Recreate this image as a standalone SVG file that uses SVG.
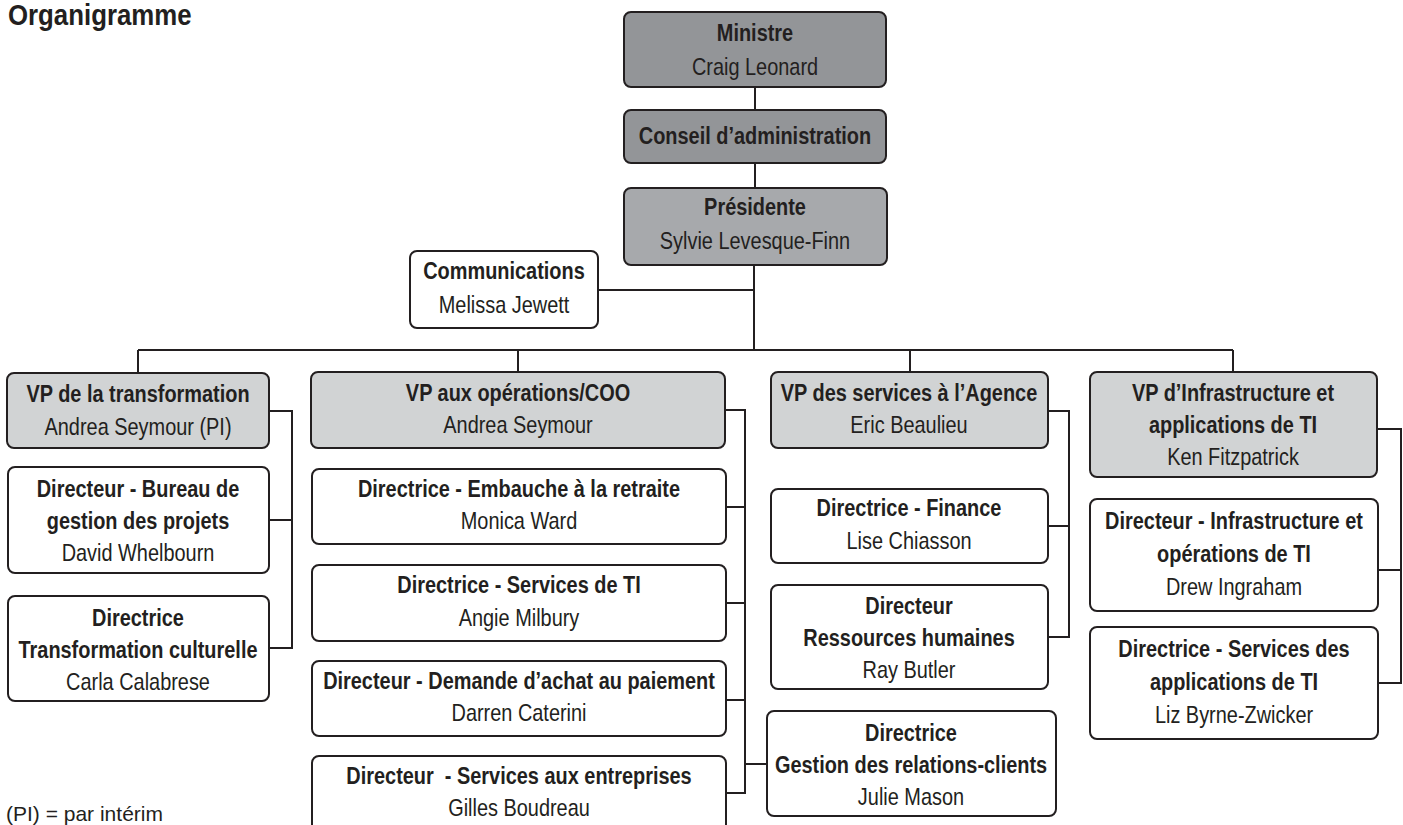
<svg xmlns="http://www.w3.org/2000/svg" width="1403" height="825" viewBox="0 0 1403 825">
<style>
  rect { stroke: #231f20; stroke-width: 2; }
  .w { fill: #ffffff; }
  .dk { fill: #939598; }
  .md { fill: #a7a9ac; }
  .lt { fill: #d1d3d4; }
  text { font-family: "Liberation Sans", Arial, sans-serif; font-size: 24px; fill: #231f20; text-anchor: middle; }
  .b { font-weight: bold; }
  .r { font-weight: normal; }
  .pre { white-space: pre; }
  #connectors path { fill: none; stroke: #231f20; stroke-width: 2; }
</style>

<g id="connectors">
  <path d="M755 87V110M755 163V188M754 265V350M598 290H754"/>
  <path d="M138 350H1233M138 350V373M518 350V372M910 350V372M1233 350V372"/>
  <path d="M269 411H292V648H269M269 520H292"/>
  <path d="M725 410H745V793H726M726 507H745M726 603H745M726 700H745M745 764H767"/>
  <path d="M1048 411H1069V637H1048M1048 526H1069"/>
  <path d="M1377 429H1401V683H1378M1378 570H1401"/>
</g>

<text id="title" class="b" style="text-anchor:start;font-size:29px" transform="translate(8 25) scale(0.89 1)">Organigramme</text>

<g id="ministre">
  <rect class="dk" x="624" y="12" width="262" height="75" rx="7"/>
  <text class="b" transform="translate(755 41) scale(0.83 1)">Ministre</text>
  <text class="r" transform="translate(755 75) scale(0.83 1)">Craig Leonard</text>
</g>
<g id="conseil">
  <rect class="dk" x="624" y="110" width="262" height="53" rx="7"/>
  <text class="b" transform="translate(755 144) scale(0.83 1)">Conseil d’administration</text>
</g>
<g id="presidente">
  <rect class="md" x="624" y="188" width="263" height="77" rx="7"/>
  <text class="b" transform="translate(755 215) scale(0.83 1)">Présidente</text>
  <text class="r" transform="translate(755 249) scale(0.83 1)">Sylvie Levesque-Finn</text>
</g>
<g id="communications">
  <rect class="w" x="410" y="251" width="188" height="77" rx="7"/>
  <text class="b" transform="translate(504 279) scale(0.83 1)">Communications</text>
  <text class="r" transform="translate(504 313) scale(0.83 1)">Melissa Jewett</text>
</g>

<g id="vp-transformation">
  <rect class="lt" x="7" y="373" width="262" height="75" rx="7"/>
  <text class="b" transform="translate(138 402) scale(0.83 1)">VP de la transformation</text>
  <text class="r" transform="translate(138 435) scale(0.83 1)">Andrea Seymour (PI)</text>
</g>
<g id="dir-bureau">
  <rect class="w" x="8" y="467" width="261" height="106" rx="7"/>
  <text class="b" transform="translate(138 497) scale(0.83 1)">Directeur - Bureau de</text>
  <text class="b" transform="translate(138 529) scale(0.83 1)">gestion des projets</text>
  <text class="r" transform="translate(138 561) scale(0.83 1)">David Whelbourn</text>
</g>
<g id="dir-transformation">
  <rect class="w" x="8" y="596" width="261" height="105" rx="7"/>
  <text class="b" transform="translate(138 626) scale(0.83 1)">Directrice</text>
  <text class="b" transform="translate(138 658) scale(0.83 1)">Transformation culturelle</text>
  <text class="r" transform="translate(138 690) scale(0.83 1)">Carla Calabrese</text>
</g>

<g id="vp-operations">
  <rect class="lt" x="311" y="372" width="414" height="76" rx="7"/>
  <text class="b" transform="translate(518 401) scale(0.83 1)">VP aux opérations/COO</text>
  <text class="r" transform="translate(518 433) scale(0.83 1)">Andrea Seymour</text>
</g>
<g id="dir-embauche">
  <rect class="w" x="312" y="469" width="414" height="75" rx="7"/>
  <text class="b" transform="translate(519 497) scale(0.83 1)">Directrice - Embauche à la retraite</text>
  <text class="r" transform="translate(519 529) scale(0.83 1)">Monica Ward</text>
</g>
<g id="dir-services-ti">
  <rect class="w" x="312" y="565" width="414" height="76" rx="7"/>
  <text class="b" transform="translate(519 593) scale(0.83 1)">Directrice - Services de TI</text>
  <text class="r" transform="translate(519 626) scale(0.83 1)">Angie Milbury</text>
</g>
<g id="dir-demande">
  <rect class="w" x="312" y="661" width="414" height="75" rx="7"/>
  <text class="b" transform="translate(519 689) scale(0.83 1)">Directeur - Demande d’achat au paiement</text>
  <text class="r" transform="translate(519 721) scale(0.83 1)">Darren Caterini</text>
</g>
<g id="dir-entreprises">
  <rect class="w" x="312" y="756" width="414" height="76" rx="7"/>
  <text class="b pre" transform="translate(519 784) scale(0.83 1)">Directeur  - Services aux entreprises</text>
  <text class="r" transform="translate(519 816) scale(0.83 1)">Gilles Boudreau</text>
</g>

<g id="vp-services">
  <rect class="lt" x="771" y="372" width="277" height="76" rx="7"/>
  <text class="b" transform="translate(909 401) scale(0.83 1)">VP des services à l’Agence</text>
  <text class="r" transform="translate(909 433) scale(0.83 1)">Eric Beaulieu</text>
</g>
<g id="dir-finance">
  <rect class="w" x="771" y="489" width="277" height="74" rx="7"/>
  <text class="b" transform="translate(909 516) scale(0.83 1)">Directrice - Finance</text>
  <text class="r" transform="translate(909 549) scale(0.83 1)">Lise Chiasson</text>
</g>
<g id="dir-rh">
  <rect class="w" x="771" y="585" width="277" height="104" rx="7"/>
  <text class="b" transform="translate(909 614) scale(0.83 1)">Directeur</text>
  <text class="b" transform="translate(909 646) scale(0.83 1)">Ressources humaines</text>
  <text class="r" transform="translate(909 678) scale(0.83 1)">Ray Butler</text>
</g>
<g id="dir-gestion">
  <rect class="w" x="767" y="711" width="289" height="105" rx="7"/>
  <text class="b" transform="translate(911 741) scale(0.83 1)">Directrice</text>
  <text class="b" transform="translate(911 773) scale(0.83 1)">Gestion des relations-clients</text>
  <text class="r" transform="translate(911 805) scale(0.83 1)">Julie Mason</text>
</g>

<g id="vp-infrastructure">
  <rect class="lt" x="1090" y="372" width="287" height="105" rx="7"/>
  <text class="b" transform="translate(1233 401) scale(0.83 1)">VP d’Infrastructure et</text>
  <text class="b" transform="translate(1233 433) scale(0.83 1)">applications de TI</text>
  <text class="r" transform="translate(1233 465) scale(0.83 1)">Ken Fitzpatrick</text>
</g>
<g id="dir-infrastructure">
  <rect class="w" x="1090" y="499" width="288" height="112" rx="7"/>
  <text class="b" transform="translate(1234 529) scale(0.83 1)">Directeur - Infrastructure et</text>
  <text class="b" transform="translate(1234 562) scale(0.83 1)">opérations de TI</text>
  <text class="r" transform="translate(1234 595) scale(0.83 1)">Drew Ingraham</text>
</g>
<g id="dir-applications">
  <rect class="w" x="1090" y="627" width="288" height="112" rx="7"/>
  <text class="b" transform="translate(1234 657) scale(0.83 1)">Directrice - Services des</text>
  <text class="b" transform="translate(1234 690) scale(0.83 1)">applications de TI</text>
  <text class="r" transform="translate(1234 723) scale(0.83 1)">Liz Byrne-Zwicker</text>
</g>

<text id="footnote" class="r" style="text-anchor:start;font-size:21px" x="6" y="821">(PI) = par intérim</text>
</svg>
